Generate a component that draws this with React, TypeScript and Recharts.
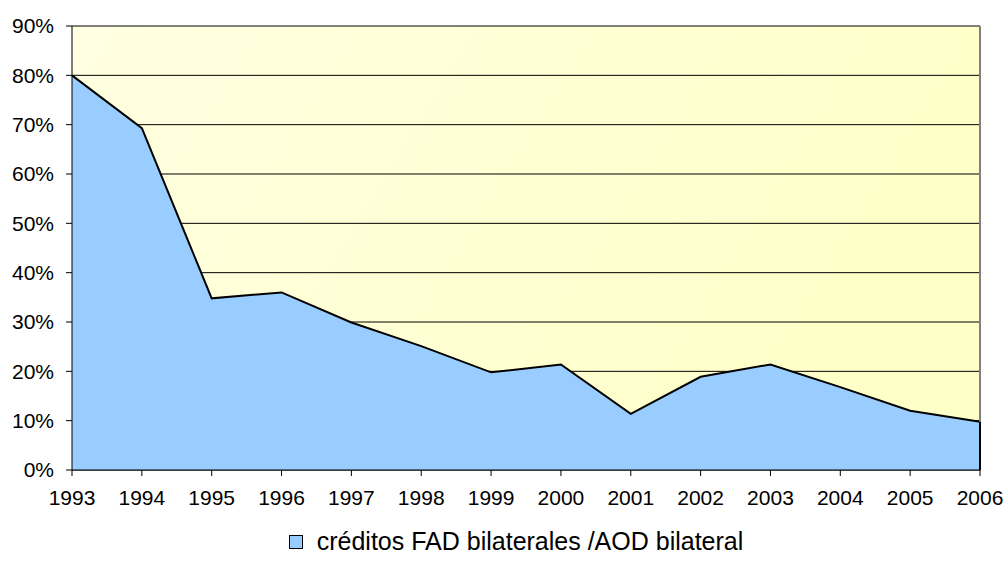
import React from 'react';
import { AreaChart, Area, XAxis, YAxis, CartesianGrid, Legend, ReferenceLine } from 'recharts';

const years = ['1993', '1994', '1995', '1996', '1997', '1998', '1999', '2000', '2001', '2002', '2003', '2004', '2005', '2006'];
const ratio = [80, 69.3, 34.8, 36.0, 29.9, 25.1, 19.8, 21.4, 11.4, 18.9, 21.4, 16.8, 12.0, 9.8];
const yTicks = [0, 10, 20, 30, 40, 50, 60, 70, 80, 90];
const seriesName = 'créditos FAD bilaterales /AOD bilateral';

const font = '"Liberation Sans", Arial, sans-serif';

const data = years.map((y, i) => ({ year: y, v: ratio[i] }));
const lastYear = years[years.length - 1];
const lastVal = ratio[ratio.length - 1];

// leyenda propia: cuadro azul + texto, como en el original
function LegendBox(props: any) {
  const items = props.payload || [];
  return (
    <div style={{ display: 'flex', justifyContent: 'center', paddingLeft: 27, fontFamily: font, fontSize: 25, color: '#000' }}>
      {items.map((it: any) => (
        <div key={it.value} style={{ position: 'relative', height: 26, lineHeight: '26px', paddingLeft: 28, whiteSpace: 'nowrap' }}>
          <span style={{ position: 'absolute', left: 0, top: 7, width: 12, height: 12, background: '#99CCFF', border: '1.5px solid #000' }} />
          <span>{it.value}</span>
        </div>
      ))}
    </div>
  );
}

export default function App() {
  return (
    <div style={{ position: 'absolute', left: 0, top: 0, width: 1005, height: 578, background: '#fff' }}>
      <AreaChart width={1005} height={578} data={data} margin={{ top: 26, right: 25, left: 0, bottom: 68 }}>
        <defs>
          <linearGradient id="bgGrad" x1="0" y1="0" x2="1" y2="0.3">
            <stop offset="0%" stopColor="#FFFFE2" />
            <stop offset="100%" stopColor="#FFFFC8" />
          </linearGradient>
        </defs>
        <CartesianGrid vertical={false} stroke="#000" strokeWidth={1} fill="url(#bgGrad)" fillOpacity={1} />
        <XAxis
          dataKey="year"
          height={40}
          stroke="#000"
          tickSize={6}
          tickMargin={14}
          tick={{ fill: '#000', fontSize: 21, fontFamily: font }}
          interval={0}
        />
        <YAxis
          width={72}
          domain={[0, 90]}
          ticks={yTicks}
          stroke="#000"
          tickSize={6}
          tickMargin={12}
          tickFormatter={(v: number) => `${v}%`}
          tick={{ fill: '#000', fontSize: 21, fontFamily: font }}
          interval={0}
        />
        <ReferenceLine x={lastYear} stroke="#808080" strokeWidth={2} />
        <Area
          type="linear"
          dataKey="v"
          name={seriesName}
          stroke="#000"
          strokeWidth={2}
          fill="#99CCFF"
          fillOpacity={1}
          isAnimationActive={false}
          dot={false}
          activeDot={false}
        />
        <ReferenceLine segment={[{ x: lastYear, y: 0 }, { x: lastYear, y: lastVal }]} stroke="#000" strokeWidth={2} />
        <Legend verticalAlign="middle" layout="horizontal" content={LegendBox} wrapperStyle={{ top: 528, left: 0, width: 1005 }} />
      </AreaChart>
    </div>
  );
}
